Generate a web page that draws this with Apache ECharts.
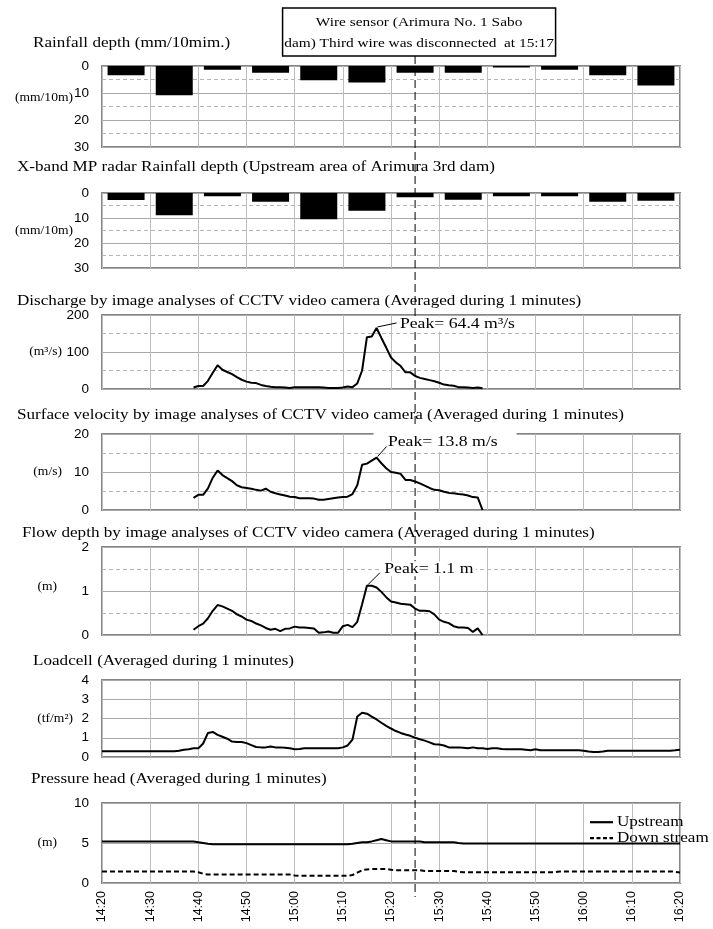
<!DOCTYPE html>
<html><head><meta charset="utf-8">
<script src="https://cdn.jsdelivr.net/npm/echarts@6/dist/echarts.min.js"></script>
<style>html,body{margin:0;padding:0;background:#fff}#c{width:713px;height:929px}</style>
</head><body><div id="c"></div>
<script>
// ---------------- DATA ----------------
// x values are minutes after 14:20
const timeTickLabels = ['14:20','14:30','14:40','14:50','15:00','15:10','15:20','15:30','15:40','15:50','16:00','16:10','16:20'];
// 10-min rainfall, plotted at the middle of each 10-min interval
const rainIntervalMid = [5,15,25,35,45,55,65,75,85,95,105,115];
const rainfallDepth = [3.4,10.8,1.4,2.5,5.3,6.1,2.5,2.5,0.6,1.4,3.4,7.2];
const xbandRainfall = [2.8,8.9,1.3,3.5,10.5,7.1,1.7,2.7,1.3,1.3,3.5,3.1];

// CCTV image analyses, 1-min values from 14:39 (minute 19) to 15:39 (minute 79)
const cctvStartMinute = 19;
const discharge = [4,8,8,22,44,64,52,46,40,32,25,20,17,16,11,8,6,5,5,4,3,5,5,5,5,5,5,4,3,3,3,4,7,5,15,50,140,142,165,138,112,85,72,62,45,45,35,30,27,24,21,17,12,10,9,5,5,4,3,4,2];
const velocity = [3.2,4.0,4.0,5.7,8.5,10.4,9.2,8.4,7.6,6.5,6.0,5.8,5.6,5.3,5.1,5.6,4.8,4.4,4.1,3.8,3.5,3.4,3.1,3.1,3.1,3.0,2.7,2.7,2.9,3.1,3.3,3.4,3.5,4.2,6.5,11.9,12.2,13.0,13.8,12.3,11.0,10.0,9.8,9.5,7.9,7.9,7.5,7.0,6.4,5.8,5.3,5.2,4.8,4.5,4.4,4.2,4.1,3.8,3.4,3.3,0];
const flowDepth = [0.12,0.2,0.26,0.38,0.55,0.68,0.65,0.6,0.55,0.47,0.42,0.35,0.32,0.26,0.22,0.16,0.12,0.14,0.09,0.14,0.15,0.19,0.17,0.17,0.16,0.15,0.05,0.06,0.08,0.05,0.05,0.2,0.23,0.18,0.3,0.7,1.12,1.12,1.08,0.98,0.86,0.76,0.74,0.71,0.7,0.69,0.6,0.55,0.55,0.54,0.47,0.35,0.3,0.27,0.2,0.17,0.17,0.16,0.07,0.15,0.0];

// Loadcell and pressure head, 1-min values from 14:20 (minute 0) to 16:20 (minute 120)
const loggerStartMinute = 0;
const loadcell = [0.3,0.3,0.3,0.3,0.3,0.3,0.3,0.3,0.3,0.3,0.3,0.3,0.3,0.3,0.3,0.3,0.32,0.38,0.4,0.45,0.45,0.7,1.25,1.3,1.15,1.05,0.95,0.8,0.78,0.78,0.72,0.62,0.52,0.5,0.5,0.55,0.5,0.5,0.48,0.45,0.4,0.42,0.45,0.45,0.45,0.45,0.45,0.45,0.45,0.45,0.5,0.6,0.9,2.1,2.3,2.25,2.1,1.95,1.78,1.62,1.48,1.35,1.25,1.17,1.1,1.0,0.92,0.85,0.76,0.66,0.65,0.6,0.5,0.5,0.5,0.48,0.45,0.5,0.45,0.45,0.42,0.45,0.45,0.42,0.4,0.4,0.4,0.4,0.38,0.35,0.4,0.35,0.35,0.35,0.35,0.35,0.35,0.35,0.35,0.35,0.32,0.28,0.26,0.26,0.28,0.32,0.33,0.33,0.33,0.33,0.33,0.33,0.33,0.33,0.33,0.33,0.33,0.33,0.33,0.35,0.38];
const pressureUp = [5.2,5.2,5.2,5.2,5.2,5.2,5.2,5.2,5.2,5.2,5.2,5.2,5.2,5.2,5.2,5.2,5.2,5.2,5.2,5.2,5.1,5.0,4.9,4.85,4.85,4.85,4.85,4.85,4.85,4.85,4.85,4.85,4.85,4.85,4.85,4.85,4.85,4.85,4.85,4.85,4.85,4.85,4.85,4.85,4.85,4.85,4.85,4.85,4.85,4.85,4.85,4.85,4.9,5.0,5.1,5.1,5.2,5.35,5.5,5.35,5.2,5.2,5.2,5.2,5.2,5.2,5.2,5.1,5.1,5.1,5.1,5.1,5.1,5.1,5.0,4.95,4.95,4.95,4.95,4.95,4.95,4.95,4.95,4.95,4.95,4.95,4.95,4.95,4.95,4.95,4.95,4.95,4.95,4.95,4.95,4.95,4.95,4.95,4.95,4.95,4.95,4.95,4.95,4.95,4.95,4.95,4.95,4.95,4.95,4.95,4.95,4.95,4.95,4.95,4.95,4.95,4.95,4.95,4.95,4.95,4.95];
const pressureDown = [1.45,1.45,1.45,1.45,1.45,1.45,1.45,1.45,1.45,1.45,1.45,1.45,1.45,1.45,1.45,1.45,1.45,1.45,1.45,1.45,1.35,1.15,1.05,1.05,1.05,1.05,1.05,1.05,1.05,1.05,1.05,1.05,1.05,1.05,1.05,1.05,1.05,1.05,1.05,1.05,0.95,0.9,0.9,0.9,0.9,0.9,0.9,0.9,0.9,0.9,0.9,0.9,1.0,1.3,1.6,1.7,1.75,1.75,1.75,1.75,1.65,1.6,1.6,1.6,1.6,1.6,1.6,1.5,1.5,1.5,1.5,1.5,1.5,1.5,1.4,1.35,1.35,1.35,1.35,1.35,1.35,1.35,1.35,1.35,1.35,1.35,1.35,1.35,1.35,1.35,1.35,1.35,1.35,1.35,1.35,1.45,1.45,1.45,1.45,1.45,1.45,1.45,1.45,1.45,1.45,1.45,1.45,1.45,1.45,1.45,1.45,1.45,1.45,1.45,1.45,1.45,1.45,1.45,1.45,1.4,1.3];

const panelTitles = [
  'Rainfall depth (mm/10mim.)',
  'X-band MP radar Rainfall depth (Upstream area of Arimura 3rd dam)',
  'Discharge by image analyses of CCTV video camera (Averaged during 1 minutes)',
  'Surface velocity by image analyses of CCTV video camera (Averaged during 1 minutes)',
  'Flow depth by image analyses of CCTV video camera (Averaged during 1 minutes)',
  'Loadcell (Averaged during 1 minutes)',
  'Pressure head (Averaged during 1 minutes)'
];
const unitLabels = ['(mm/10m)','(mm/10m)','(m³/s)','(m/s)','(m)','(tf/m²)','(m)'];
const unitAtValue = [12, 15, 100, 10, 1.1, 2, 5];
const yMax = [30, 30, 200, 20, 2, 4, 10];
const yInterval = [10, 10, 100, 10, 1, 1, 5];
const peakLabels = ['Peak= 64.4 m³/s', 'Peak= 13.8 m/s', 'Peak= 1.1 m'];
const eventTime = '15:25';
const eventText = 'Wire sensor (Arimura No. 1 Sabo\ndam) Third wire was disconnected  at 15:17';
const legendNames = ['Upstream', 'Down stream'];

// ---------------- LAYOUT ----------------
const SERIF = '"Liberation Serif", "Times New Roman", serif';
const SANS = '"Liberation Sans", Arial, sans-serif';
const SX = 1.18; // the figure's lettering is set wide
const gridLeft = 102, gridRight = 33;
const panelTop = [66, 193, 315, 434, 547, 680, 803];
const panelHeight = [81, 75, 74, 76, 88, 77, 80];
const titleY = [43, 167, 301, 415, 533, 661, 779];
const titleX = [33, 17, 17, 17, 22, 33, 31];
const unitRight = [73, 73, 62, 62, 57, 73, 57];

function toMin(s){ const p = s.split(':'); return (+p[0])*60 + (+p[1]) - (14*60+20); }
function fmtTime(v){ const m = 14*60+20+v; const h = Math.floor(m/60), mm = m%60; return h + ':' + (mm<10?'0':'') + mm; }
function seriesFrom(start, arr){ return arr.map((v,i)=>[start+i, v]); }
function wideText(x, y, text, size, align, extra){
  const st = Object.assign({text: text, fontFamily: SERIF, fontSize: size, fill: '#000', verticalAlign: 'middle'}, extra || {});
  st.align = align || 'left';
  return {type: 'text', x: x, y: y, scaleX: SX, style: st, z: 40};
}

const grids = [], xAxes = [], yAxes = [];
for (let i = 0; i < 7; i++) {
  grids.push({left: gridLeft, right: gridRight, top: panelTop[i], height: panelHeight[i], show: true, borderColor: '#858585', borderWidth: 2, backgroundColor: 'transparent'});
  xAxes.push({
    type: 'value', gridIndex: i, min: 0, max: 120, interval: 10,
    axisLine: {show: false}, axisTick: {show: false},
    axisLabel: i === 6 ? {show: true, rotate: 90, formatter: fmtTime, fontFamily: SANS, fontSize: 12.5, color: '#000', margin: 8} : {show: false},
    splitLine: {show: true, lineStyle: {color: '#bdbdbd', width: 1}}
  });
  const minor = (i <= 4);
  yAxes.push({
    type: 'value', gridIndex: i, min: 0, max: yMax[i], interval: yInterval[i], inverse: i < 2,
    axisLine: {show: false}, axisTick: {show: false},
    axisLabel: {fontFamily: SANS, fontSize: 13.5, color: '#000', margin: 13},
    splitLine: {show: true, lineStyle: {color: '#a9a9a9', width: 1}},
    minorTick: {show: false, splitNumber: 2},
    minorSplitLine: {show: minor, lineStyle: {color: '#b5b5b5', width: 1, type: [4, 3]}}
  });
}

const lineBase = {type: 'line', showSymbol: false, symbol: 'none', animation: false, z: 5};
const series = [
  {type: 'bar', xAxisIndex: 0, yAxisIndex: 0, barWidth: 37, itemStyle: {color: '#000'}, animation: false,
   data: rainIntervalMid.map((t,i)=>[t, rainfallDepth[i]])},
  {type: 'bar', xAxisIndex: 1, yAxisIndex: 1, barWidth: 37, itemStyle: {color: '#000'}, animation: false,
   data: rainIntervalMid.map((t,i)=>[t, xbandRainfall[i]])},
  Object.assign({}, lineBase, {xAxisIndex: 2, yAxisIndex: 2, data: seriesFrom(cctvStartMinute, discharge), lineStyle: {color: '#000', width: 2}}),
  Object.assign({}, lineBase, {xAxisIndex: 3, yAxisIndex: 3, data: seriesFrom(cctvStartMinute, velocity), lineStyle: {color: '#000', width: 2}}),
  Object.assign({}, lineBase, {xAxisIndex: 4, yAxisIndex: 4, data: seriesFrom(cctvStartMinute, flowDepth), lineStyle: {color: '#000', width: 2}}),
  Object.assign({}, lineBase, {xAxisIndex: 5, yAxisIndex: 5, data: seriesFrom(loggerStartMinute, loadcell), lineStyle: {color: '#000', width: 2}}),
  Object.assign({}, lineBase, {name: legendNames[0], xAxisIndex: 6, yAxisIndex: 6, data: seriesFrom(loggerStartMinute, pressureUp), lineStyle: {color: '#000', width: 2}}),
  Object.assign({}, lineBase, {name: legendNames[1], xAxisIndex: 6, yAxisIndex: 6, data: seriesFrom(loggerStartMinute, pressureDown), lineStyle: {color: '#000', width: 2, type: [5, 3]}})
];

const chart = echarts.init(document.getElementById('c'), null, {renderer: 'canvas'});
chart.setOption({
  animation: false,
  backgroundColor: '#fff',
  grid: grids, xAxis: xAxes, yAxis: yAxes, series: series
});

// ---------------- TEXT & ANNOTATIONS (positions through the chart's own scales) ----------------
const g = [];
for (let i = 0; i < 7; i++) g.push(wideText(titleX[i], titleY[i], panelTitles[i], 14.5));

const evX = chart.convertToPixel({xAxisIndex: 0}, toMin(eventTime));
const boxW = 273, boxH = 48, boxTop = 8;
g.push({type: 'line', shape: {x1: evX, y1: boxTop + boxH, x2: evX, y2: 897}, style: {stroke: '#000', lineWidth: 1, lineDash: [8, 4]}, z: 50});
g.push({type: 'rect', shape: {x: evX - boxW/2 + 4, y: boxTop, width: boxW, height: boxH}, style: {fill: '#fff', stroke: '#000', lineWidth: 1.5}, z: 60});
g.push(Object.assign(wideText(evX + 4, boxTop + boxH/2 + 1, eventText, 13, 'center', {lineHeight: 21}), {z: 61}));

// unit labels
for (let i = 0; i < 7; i++) {
  const y = chart.convertToPixel({yAxisIndex: i}, unitAtValue[i]);
  g.push(wideText(unitRight[i], y, unitLabels[i], 11.5, 'right'));
}

// legend of the pressure-head panel
const legendTop = chart.convertToPixel({yAxisIndex: 6}, 7.6);
[0, 1].forEach(k => {
  const y = legendTop + k * 16;
  const ls = series[6 + k].lineStyle;
  g.push({type: 'line', shape: {x1: 590, y1: y, x2: 613, y2: y}, style: {stroke: '#000', lineWidth: 2.2, lineDash: (ls.type && ls.type.length) ? [4, 2.5] : null}, z: 80});
  g.push(Object.assign(wideText(617, y, legendNames[k], 14.5), {z: 80}));
});

// peak annotations
function peakOf(arr){ let k = 0; arr.forEach((v,i)=>{ if (v > arr[k]) k = i; }); return k; }
const peakSets = [[2, discharge], [3, velocity], [4, flowDepth]];
peakSets.forEach(([ax, arr], j) => {
  const k = peakOf(arr);
  const p = chart.convertToPixel({xAxisIndex: ax, yAxisIndex: ax}, [cctvStartMinute + k, arr[k]]);
  let tx, ty, lx, ly;
  if (j === 0) { tx = p[0] + 21; ty = p[1] - 4; lx = p[0] + 20; ly = p[1] - 5; }
  else if (j === 1) { tx = p[0] + 9; ty = p[1] - 15; lx = p[0] + 10; ly = p[1] - 11; }
  else { tx = p[0] + 15; ty = p[1] - 17; lx = p[0] + 13; ly = p[1] - 13; }
  if (j === 1) {
    g.push({type: 'rect', shape: {x: p[0] - 3, y: panelTop[ax] - 6, width: 143, height: 24}, style: {fill: '#fff'}, z: 70});
  }
  g.push(Object.assign(wideText(tx, ty, peakLabels[j], 15, 'left', {backgroundColor: '#fff', padding: [0, 2]}), {z: 71}));
  g.push({type: 'line', shape: {x1: p[0] + 1, y1: p[1] - 1, x2: lx, y2: ly}, style: {stroke: '#000', lineWidth: 1}, z: 72});
});
chart.setOption({graphic: {elements: g}});
</script>
</body></html>
